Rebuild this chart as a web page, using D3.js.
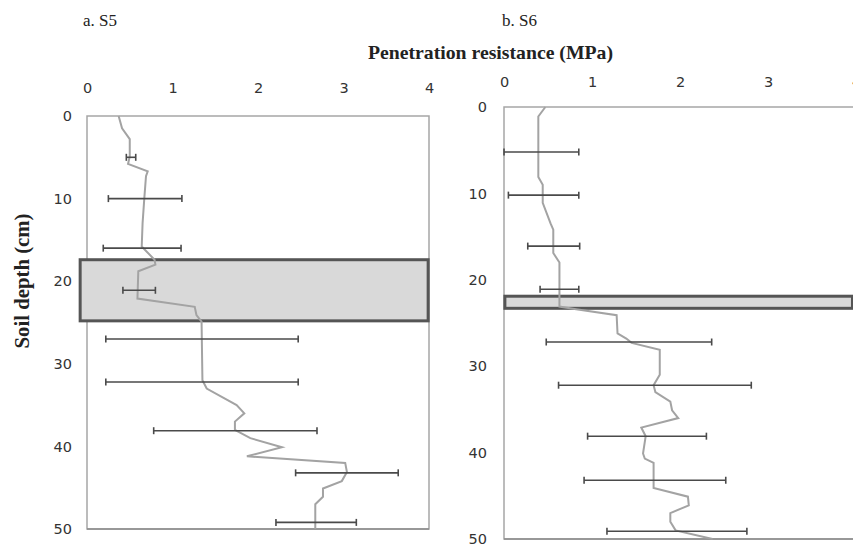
<!DOCTYPE html>
<html>
<head>
<meta charset="utf-8">
<script src="https://cdn.jsdelivr.net/npm/d3@7"></script>
<style>
  html, body { margin: 0; padding: 0; background: #fff; }
  svg { display: block; }
</style>
</head>
<body>
<div id="chart"></div>
<script>
// ---- Data ----
const xTicks = [0, 1, 2, 3, 4];
const yTicks = [0, 10, 20, 30, 40, 50];

// S5 profile (depth cm, penetration resistance MPa)
const s5Depth = [0,1.5,2.8,4.9,5.8,6.7,7.3,10,13,15.8,17.4,18,18.8,22.1,23.1,24.1,24.9,32,33,35,36,37,38,39,40.1,41.2,42,43.1,44.2,45.1,46.1,47,50];
const s5Value = [0.37,0.41,0.50,0.50,0.48,0.71,0.69,0.67,0.65,0.64,0.79,0.80,0.60,0.59,1.26,1.28,1.34,1.35,1.40,1.75,1.84,1.73,1.73,1.91,2.28,1.87,3.02,3.04,2.98,2.76,2.76,2.67,2.67];
const s5ErrDepth = [5.0,10,16,21.1,27,32.2,38.1,43.2,49.2];
const s5ErrLow   = [0.46,0.25,0.19,0.42,0.22,0.22,0.78,2.44,2.21];
const s5ErrHigh  = [0.57,1.11,1.10,0.80,2.47,2.47,2.69,3.64,3.15];
const s5Band = [17.4, 24.8];          // compacted layer depth range
const s5BandX = [-0.08, 3.99];

// S6 profile
const s6Depth = [0,1.1,8.1,9.0,11.1,13.5,14.2,16.9,18.0,23.1,23.4,24.1,26.2,26.8,27.3,28.1,31.0,32.2,33.0,34.1,35.1,36.0,37.1,38.1,40.1,40.7,41.2,44.1,45.1,46.1,47.0,48.0,49.0,50];
const s6Value = [0.47,0.39,0.39,0.44,0.44,0.53,0.56,0.56,0.63,0.63,0.82,1.28,1.29,1.39,1.45,1.77,1.77,1.70,1.72,1.89,1.91,1.98,1.56,1.61,1.58,1.60,1.70,1.70,2.09,2.10,1.89,1.89,1.95,2.37];
const s6ErrDepth = [5.2,10.2,16.1,21.1,27.2,32.2,38.1,43.2,49.1];
const s6ErrLow   = [0.0,0.05,0.27,0.41,0.48,0.62,0.95,0.91,1.17];
const s6ErrHigh  = [0.85,0.85,0.86,0.85,2.36,2.81,2.30,2.52,2.76];
const s6Band = [21.9, 23.3];
const s6BandX = [0.01, 3.96];

const panelTitles = ["a. S5", "b. S6"];
const xTitle = "Penetration resistance (MPa)";
const yTitle = "Soil depth (cm)";

// ---- Drawing ----
const W = 853, H = 547;
const svg = d3.select("#chart").append("svg").attr("width", W).attr("height", H);

const serif = "'Liberation Serif', 'Times New Roman', serif";
const sans = "'DejaVu Sans', Verdana, sans-serif";

function panel(cfg) {
  const x = d3.scaleLinear().domain([0, 4]).range(cfg.xRange);
  const y = d3.scaleLinear().domain([0, 50]).range(cfg.yRange);
  const g = svg.append("g");

  // plot frame
  g.append("rect")
    .attr("x", x(0)).attr("y", y(0))
    .attr("width", x(4) - x(0)).attr("height", y(50) - y(0))
    .attr("fill", "none").attr("stroke", "#a6a6a6").attr("stroke-width", 1.5);
  g.append("line")
    .attr("x1", x(0)).attr("x2", x(4)).attr("y1", y(50)).attr("y2", y(50))
    .attr("stroke", "#8c8c8c").attr("stroke-width", 1.5);

  // compacted band
  g.append("rect")
    .attr("x", x(cfg.bandX[0])).attr("y", y(cfg.band[0]))
    .attr("width", x(cfg.bandX[1]) - x(cfg.bandX[0]))
    .attr("height", y(cfg.band[1]) - y(cfg.band[0]))
    .attr("fill", "#d9d9d9").attr("stroke", "#555").attr("stroke-width", 3);

  // top axis
  const ax = g.append("g").attr("transform", `translate(0,${y(0) - cfg.xLabelGap})`)
    .call(d3.axisTop(x).tickValues(xTicks).tickSize(0).tickPadding(0).tickFormat(d3.format("d")));
  ax.select(".domain").remove();
  ax.selectAll("text").attr("font-family", sans).attr("font-size", 14.5).attr("fill", "#333")
    .attr("dy", "0.35em");

  // left axis
  const ay = g.append("g").attr("transform", `translate(${x(0)},0)`)
    .call(d3.axisLeft(y).tickValues(yTicks).tickSize(0).tickPadding(cfg.yPad).tickFormat(d3.format("d")));
  ay.select(".domain").remove();
  ay.selectAll("text").attr("font-family", sans).attr("font-size", 14.5).attr("fill", "#333");

  // profile line
  const pts = cfg.depth.map((d, i) => [cfg.value[i], d]);
  g.append("path")
    .datum(pts)
    .attr("fill", "none").attr("stroke", "#a3a3a3").attr("stroke-width", 2)
    .attr("d", d3.line().x(d => x(d[0])).y(d => y(d[1])));

  // error bars
  const eb = g.append("g").attr("stroke", "#4a4a4a").attr("stroke-width", 1.6);
  cfg.errDepth.forEach((d, i) => {
    const yy = y(d), x1 = x(cfg.errLow[i]), x2 = x(cfg.errHigh[i]);
    eb.append("line").attr("x1", x1).attr("x2", x2).attr("y1", yy).attr("y2", yy);
    eb.append("line").attr("x1", x1).attr("x2", x1).attr("y1", yy - 3.5).attr("y2", yy + 3.5);
    eb.append("line").attr("x1", x2).attr("x2", x2).attr("y1", yy - 3.5).attr("y2", yy + 3.5);
  });
}

panel({
  xRange: [87, 429], yRange: [116, 529], xLabelGap: 28, yPad: 15,
  depth: s5Depth, value: s5Value,
  errDepth: s5ErrDepth, errLow: s5ErrLow, errHigh: s5ErrHigh,
  band: s5Band, bandX: s5BandX
});
panel({
  xRange: [504, 856], yRange: [107, 539], xLabelGap: 25, yPad: 17,
  depth: s6Depth, value: s6Value,
  errDepth: s6ErrDepth, errLow: s6ErrLow, errHigh: s6ErrHigh,
  band: s6Band, bandX: s6BandX
});

// titles
svg.append("text").attr("x", 83).attr("y", 26).text(panelTitles[0])
  .attr("font-family", serif).attr("font-size", 17).attr("fill", "#222");
svg.append("text").attr("x", 502).attr("y", 26).text(panelTitles[1])
  .attr("font-family", serif).attr("font-size", 17).attr("fill", "#222");
svg.append("text").attr("x", 368).attr("y", 59).text(xTitle)
  .attr("font-family", serif).attr("font-size", 19).attr("font-weight", "bold").attr("fill", "#222")
  .attr("textLength", 245).attr("lengthAdjust", "spacingAndGlyphs");
svg.append("text")
  .attr("transform", "translate(29,281) rotate(-90)")
  .attr("text-anchor", "middle")
  .text(yTitle)
  .attr("font-family", serif).attr("font-size", 20).attr("font-weight", "bold").attr("fill", "#222")
  .attr("textLength", 135).attr("lengthAdjust", "spacingAndGlyphs");
</script>
</body>
</html>
